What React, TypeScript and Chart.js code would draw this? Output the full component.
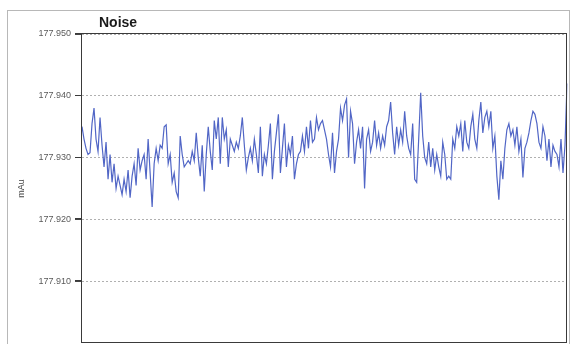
import React, { useEffect, useRef } from "react";
import { Chart, registerables } from "chart.js";

Chart.register(...registerables);

// Detector signal, mAu, one reading per sample
const noiseValues: number[] = [
  177.935, 177.933, 177.9315, 177.9305, 177.9308, 177.9355, 177.938, 177.933, 177.931, 177.9365,
  177.932, 177.9285, 177.9325, 177.9265, 177.9305, 177.926, 177.929, 177.925, 177.927, 177.9255,
  177.924, 177.9265, 177.9245, 177.928, 177.9235, 177.927, 177.929, 177.9255, 177.9315, 177.928,
  177.9295, 177.9305, 177.9265, 177.933, 177.9275, 177.922, 177.929, 177.9315, 177.9295, 177.932,
  177.9315, 177.935, 177.9353, 177.929, 177.9305, 177.926, 177.9275, 177.9245, 177.9235, 177.9335,
  177.9305, 177.9285, 177.929, 177.9295, 177.929, 177.931, 177.9295, 177.934, 177.93, 177.927,
  177.932, 177.9245, 177.9305, 177.935, 177.931, 177.928, 177.936, 177.933, 177.9365, 177.929,
  177.9365, 177.933, 177.9345, 177.9285, 177.933, 177.932, 177.931, 177.9325, 177.9315, 177.9335,
  177.9365, 177.932, 177.928, 177.93, 177.9315, 177.9295, 177.933, 177.9305, 177.9275, 177.935,
  177.927, 177.9305, 177.929, 177.932, 177.9355, 177.9265, 177.931, 177.934, 177.937, 177.9275,
  177.9315, 177.9355, 177.9285, 177.932, 177.9305, 177.9335, 177.9265, 177.929, 177.9305, 177.931,
  177.9335, 177.931, 177.935, 177.9315, 177.936, 177.9325, 177.933, 177.9365, 177.9345, 177.9355,
  177.936, 177.9345, 177.933, 177.9305, 177.9285, 177.934, 177.9275, 177.931, 177.933, 177.938,
  177.936, 177.9385, 177.9395, 177.93, 177.9375, 177.9355, 177.929, 177.9325, 177.9345, 177.9315,
  177.935, 177.925, 177.933, 177.9345, 177.931, 177.9325, 177.936, 177.932, 177.934, 177.9315,
  177.9335, 177.932, 177.935, 177.936, 177.939, 177.934, 177.9305, 177.935, 177.932, 177.9345,
  177.9325, 177.9375, 177.9335, 177.9315, 177.9305, 177.9355, 177.9265, 177.926, 177.933, 177.9405,
  177.9335, 177.93, 177.929, 177.9325, 177.9285, 177.9315, 177.928, 177.9305, 177.9285, 177.927,
  177.9325, 177.9305, 177.9265, 177.927, 177.9265, 177.933, 177.9315, 177.935, 177.9335, 177.9355,
  177.931, 177.936, 177.9325, 177.9315, 177.935, 177.937, 177.933, 177.9315, 177.936, 177.939,
  177.934, 177.9365, 177.9375, 177.935, 177.9375, 177.9315, 177.9335, 177.927, 177.9232, 177.9295,
  177.9265, 177.9315, 177.9345, 177.9355, 177.9335, 177.9345, 177.932, 177.935, 177.931, 177.933,
  177.9268, 177.9315, 177.9325, 177.934, 177.936, 177.9375, 177.937, 177.9355, 177.9325, 177.9315,
  177.935, 177.9335, 177.9295, 177.933, 177.9285, 177.932, 177.931, 177.9305, 177.9285, 177.933,
  177.9275, 177.932, 177.942,
];

const sampleLabels: number[] = noiseValues.map((_, i) => i);

const yMin = 177.9;
const yMax = 177.95;
const yStep = 0.01;

const chartTitle = "Noise";
const yAxisTitle = "mAu";

// Outer panel border, title text, tick marks and a frame round the plot area
const decorations = {
  id: "decorations",
  beforeDraw(chart: any) {
    const { ctx } = chart;
    ctx.save();
    ctx.fillStyle = "#ffffff";
    ctx.fillRect(0, 0, chart.width, chart.height);
    ctx.strokeStyle = "#b8b8b8";
    ctx.lineWidth = 1;
    ctx.strokeRect(7.5, 10.5, 562, 360);
    ctx.restore();
  },
  afterDraw(chart: any) {
    const { ctx, chartArea } = chart;
    const yScale = chart.scales.y;
    const left = Math.round(chartArea.left);
    const right = Math.round(chartArea.right);
    const top = Math.round(yScale.getPixelForValue(yMax)) - 0.5;
    const bottom = Math.round(chartArea.bottom) - 0.5;
    ctx.save();
    ctx.strokeStyle = "#3a3a3a";
    ctx.lineWidth = 1;
    ctx.strokeRect(left - 0.5, top, right - left, bottom - top);
    ctx.beginPath();
    for (const t of yScale.ticks) {
      const y = Math.round(yScale.getPixelForValue(t.value)) - 0.5;
      ctx.moveTo(left - 7, y);
      ctx.lineTo(left, y);
    }
    ctx.stroke();
    ctx.fillStyle = "#1a1a1a";
    ctx.font = "bold 14px 'Liberation Sans', Arial, sans-serif";
    ctx.textAlign = "left";
    ctx.textBaseline = "alphabetic";
    ctx.fillText(chartTitle, 99, 27);
    ctx.restore();
  },
};

export default function App() {
  const canvasRef = useRef<HTMLCanvasElement | null>(null);

  useEffect(() => {
    if (!canvasRef.current) return;
    const chart = new Chart(canvasRef.current, {
      type: "line",
      data: {
        labels: sampleLabels,
        datasets: [
          {
            data: noiseValues,
            borderColor: "#5166c6",
            borderWidth: 1.2,
            pointRadius: 0,
            tension: 0,
            fill: false,
          },
        ],
      },
      options: {
        animation: false,
        responsive: false,
        maintainAspectRatio: false,
        layout: { padding: { left: 0, top: 34, right: 5, bottom: 1 } },
        plugins: {
          legend: { display: false },
          tooltip: { enabled: false },
        },
        scales: {
          x: { display: false },
          y: {
            min: yMin,
            max: yMax,
            afterBuildTicks: (axis: any) => {
              axis.ticks = axis.ticks.filter((t: any) => t.value > yMin + yStep / 2);
            },
            afterFit: (axis: any) => {
              axis.width = 82;
              axis.paddingTop = 0;
              axis.paddingBottom = 0;
            },
            ticks: {
              stepSize: yStep,
              padding: 4,
              color: "#5a5a5a",
              font: { family: "'Liberation Sans', Arial, sans-serif", size: 9 },
              callback: (v: any) => Number(v).toFixed(3),
            },
            grid: {
              color: "#b0b0b0",
              tickLength: 7,
              tickColor: "#444444",
              drawTicks: true,
            },
            border: { display: false, dash: [2, 2] },
            title: {
              display: true,
              text: yAxisTitle,
              color: "#444444",
              font: { family: "'Liberation Sans', Arial, sans-serif", size: 9 },
              padding: { top: 16, bottom: 0 },
            },
          },
        },
      },
      plugins: [decorations],
    });
    return () => chart.destroy();
  }, []);

  return (
    <div style={{ position: "fixed", left: 0, top: 0, width: 572, height: 344 }}>
      <canvas ref={canvasRef} width={572} height={344} />
    </div>
  );
}
